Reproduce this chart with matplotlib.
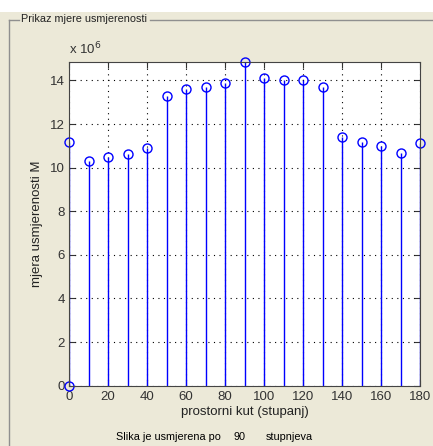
import numpy as np
import matplotlib.pyplot as plt
from matplotlib.patches import Rectangle
from matplotlib.lines import Line2D

# podaci
kut = [0, 10, 20, 30, 40, 50, 60, 70, 80, 90, 100, 110, 120, 130, 140, 150, 160, 170, 180]
mjera = [11.17, 10.32, 10.50, 10.61, 10.89, 13.29, 13.61, 13.70, 13.90, 14.83,
         14.13, 14.02, 14.01, 13.72, 11.42, 11.17, 11.00, 10.66, 11.13]
xticks = [0, 20, 40, 60, 80, 100, 120, 140, 160, 180]
yticks = [0, 2, 4, 6, 8, 10, 12, 14]

plt.rcParams['font.family'] = ['Liberation Sans', 'DejaVu Sans']
W, H = 433, 446
fig = plt.figure(figsize=(W / 100, H / 100), dpi=100)
fig.patch.set_facecolor('#ece9d8')

# bijela traka gore
fig.patches.append(Rectangle((0, 1 - 12 / H), 1, 12 / H, transform=fig.transFigure,
                             facecolor='white', edgecolor='none', zorder=0))
# okvir panela
fc = '#8f8f8f'
fig.add_artist(Line2D([9 / W, 9 / W], [0, 1 - 19.5 / H], color=fc, lw=1))
fig.add_artist(Line2D([9 / W, 19 / W], [1 - 19.5 / H] * 2, color=fc, lw=1))
fig.add_artist(Line2D([150 / W, 1], [1 - 19.5 / H] * 2, color=fc, lw=1))
fig.text(21 / W, 1 - 19 / H, 'Prikaz mjere usmjerenosti', fontsize=7.8,
         va='center', ha='left', color='#222222')

ax = fig.add_axes([69 / W, 1 - 385.7 / H, 351 / W, 324 / H])
ml, sl, bl = ax.stem(kut, mjera, basefmt=' ')
plt.setp(sl, color='blue', lw=1)
plt.setp(ml, color='blue', marker='o', markerfacecolor='none', markersize=6.5, mew=1)
ml.set_clip_on(False)
ax.plot([0], [0], 'o', color='blue', markerfacecolor='none', markersize=6.5, mew=1, clip_on=False)

ax.set_xlim(0, 180)
ax.set_ylim(0, 14.86)
ax.set_xticks(xticks)
ax.set_yticks(yticks)
ax.grid(True, color='black', linestyle=(0, (1, 4)), lw=0.8)
ax.tick_params(direction='in', top=True, right=True, labelsize=9.5, colors='#333333',
               length=4)
ax.tick_params(axis='x', pad=4)
ax.tick_params(axis='y', pad=3)
for s in ax.spines.values():
    s.set_color('#444444')
ax.set_xlabel('prostorni kut (stupanj)', fontsize=9.5, color='#222222', labelpad=2)
ax.set_ylabel('mjera usmjerenosti M', fontsize=9.5, color='#222222', labelpad=5)
ax.text(0, 1.015, r'x 10$^6$', transform=ax.transAxes, fontsize=9.5, color='#333333',
        ha='left', va='bottom')

fig.text(168 / W, 1 - 437 / H, 'Slika je usmjerena po', fontsize=7.8, ha='center', va='center')
fig.text(240 / W, 1 - 437 / H, '90', fontsize=7.8, ha='center', va='center')
fig.text(289 / W, 1 - 437 / H, 'stupnjeva', fontsize=7.8, ha='center', va='center')

fig.savefig('out.png', dpi=100, facecolor=fig.get_facecolor())
